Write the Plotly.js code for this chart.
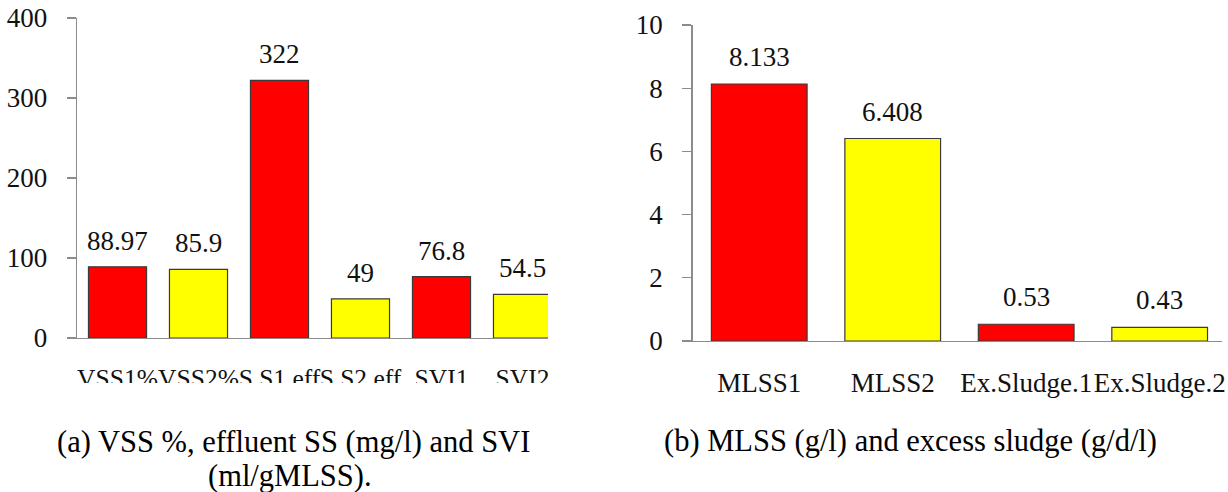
<!DOCTYPE html>
<html>
<head>
<meta charset="utf-8">
<script src="https://cdn.plot.ly/plotly-3.0.1.min.js"></script>
<style>
  html, body { margin: 0; padding: 0; background: #ffffff; font-family: 'Liberation Serif'; }
  #chart { width: 1228px; height: 492px; }
</style>
</head>
<body>
<div id="chart"></div>
<script>
// ---- Data ----
const catsA = ["VSS1%", "VSS2%", "S.S1 eff", "S.S2 eff", "SVI1", "SVI2"];
const valsA = [88.97, 85.9, 322, 49, 76.8, 54.5];
const colorsA = ["#FF0000", "#FFFF00", "#FF0000", "#FFFF00", "#FF0000", "#FFFF00"];

const catsB = ["MLSS1", "MLSS2", "Ex.Sludge.1", "Ex.Sludge.2"];
const valsB = [8.133, 6.408, 0.53, 0.43];
const colorsB = ["#FF0000", "#FFFF00", "#FF0000", "#FFFF00"];

const yTicksA = [0, 100, 200, 300, 400];
const yTicksB = [0, 2, 4, 6, 8, 10];

const captionA1 = "(a) VSS %, effluent SS (mg/l) and SVI";
const captionA2 = "(ml/gMLSS).";
const captionB = "(b) MLSS (g/l) and excess sludge (g/d/l)";

// ---- Styling ----
const FONT = "Liberation Serif";
const AXIS_GREY = "#8c8c8c";
const W = 1228, H = 492;
const px = v => v / W;
const py = v => 1 - v / H;

function draw() {
  const barLine = { color: "#3a3a3a", width: 1.2 };

  const traces = [
    {
      type: "bar", x: catsA, y: valsA, xaxis: "x", yaxis: "y",
      marker: { color: colorsA, line: barLine },
      hoverinfo: "x+y", showlegend: false
    },
    {
      type: "bar", x: catsB, y: valsB, xaxis: "x2", yaxis: "y2",
      marker: { color: colorsB, line: barLine },
      hoverinfo: "x+y", showlegend: false
    }
  ];

  const tickFont = { family: FONT, size: 27, color: "#111111" };

  const annotations = [];
  catsA.forEach((c, i) => annotations.push({
    xref: "x", yref: "y", x: c, y: valsA[i], text: String(valsA[i]),
    showarrow: false, yanchor: "middle", yshift: 26,
    font: { family: FONT, size: 27, color: "#111111" }
  }));
  catsB.forEach((c, i) => annotations.push({
    xref: "x2", yref: "y2", x: c, y: valsB[i], text: String(valsB[i]),
    showarrow: false, yanchor: "middle", yshift: 27,
    font: { family: FONT, size: 27, color: "#111111" }
  }));
  annotations.push(
    { xref: "paper", yref: "paper", x: px(55), y: py(442), xanchor: "left", yanchor: "middle",
      text: captionA1, showarrow: false, font: { family: FONT, size: 30.5, color: "#000000" } },
    { xref: "paper", yref: "paper", x: px(290), y: py(476), xanchor: "center", yanchor: "middle",
      text: captionA2, showarrow: false, font: { family: FONT, size: 30.5, color: "#000000" } },
    { xref: "paper", yref: "paper", x: px(662), y: py(441), xanchor: "left", yanchor: "middle",
      text: captionB, showarrow: false, font: { family: FONT, size: 30.5, color: "#000000" } }
  );

  const commonY = {
    showline: true, linecolor: AXIS_GREY, linewidth: 1.3,
    ticks: "outside", ticklen: 9, tickcolor: AXIS_GREY, tickwidth: 1.3,
    showgrid: false, zeroline: false, tickfont: tickFont,
    ticklabelstandoff: 14, fixedrange: true
  };
  const commonX = {
    showline: true, linecolor: AXIS_GREY, linewidth: 1.3,
    ticks: "", showgrid: false, zeroline: false,
    tickangle: 0, fixedrange: true, type: "category"
  };

  const layout = {
    width: W, height: H,
    font: { family: FONT, size: 27, color: "#111111" },
    margin: { l: 0, r: 0, t: 0, b: 0, pad: 0 },
    paper_bgcolor: "#ffffff", plot_bgcolor: "#ffffff",
    bargap: 0.283,
    showlegend: false,
    xaxis: Object.assign({}, commonX, {
      domain: [px(77), px(548)], range: [-0.5, 5.315], anchor: "y",
      tickfont: { family: FONT, size: 25.5, color: "#111111" }, ticklabelstandoff: 17
    }),
    yaxis: Object.assign({}, commonY, {
      domain: [py(338), py(18)], range: [0, 400], tickvals: yTicksA, anchor: "x"
    }),
    xaxis2: Object.assign({}, commonX, {
      domain: [px(692.5), px(1222)], range: [-0.5, 3.467], anchor: "y2",
      tickfont: tickFont, ticklabelstandoff: 17
    }),
    yaxis2: Object.assign({}, commonY, {
      domain: [py(341), py(25)], range: [0, 10], tickvals: yTicksB, anchor: "x2"
    }),
    annotations: annotations,
    shapes: [
      // the reference crops the bottom of the left chart's category labels
      { type: "rect", xref: "paper", yref: "paper", layer: "above",
        x0: px(60), x1: px(600), y0: py(405), y1: py(383),
        fillcolor: "#ffffff", line: { width: 0 } }
    ]
  };

  Plotly.newPlot("chart", traces, layout, { displayModeBar: false, staticPlot: true });
}

let drawn = false;
function drawOnce() { if (!drawn) { drawn = true; draw(); } }
if (document.fonts && document.fonts.load) {
  document.fonts.load('27px "Liberation Serif"').then(drawOnce, drawOnce);
  setTimeout(drawOnce, 1500);
} else {
  drawOnce();
}
</script>
</body>
</html>
